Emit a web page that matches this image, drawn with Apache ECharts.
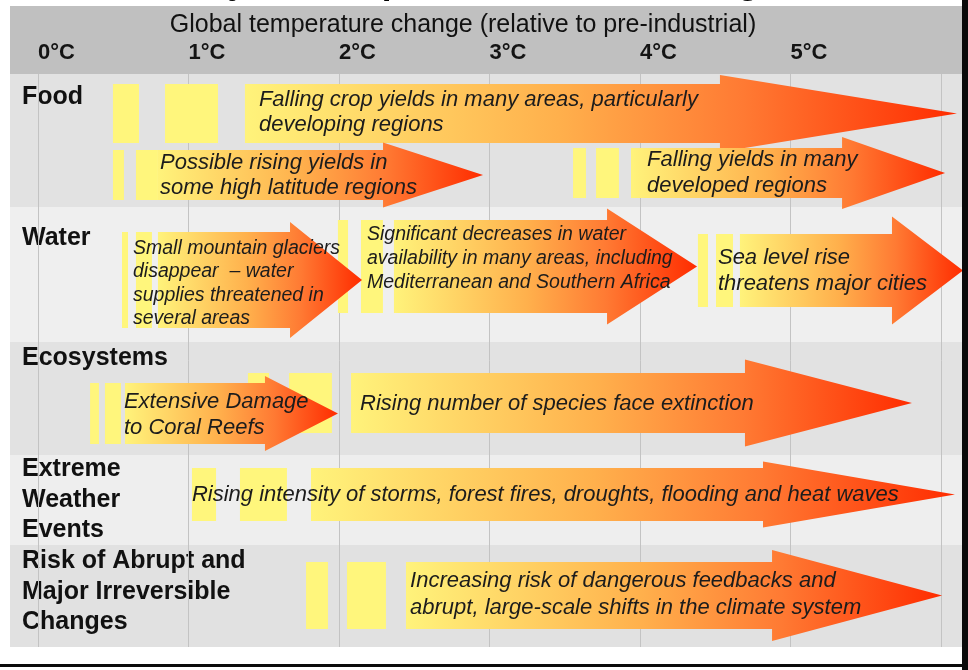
<!DOCTYPE html>
<html>
<head>
<meta charset="utf-8">
<title>Projected impacts of climate change</title>
<script src="https://cdn.jsdelivr.net/npm/echarts@6/dist/echarts.min.js"></script>
<style>
  html, body { margin: 0; padding: 0; background: #fff; }
  #chart { width: 968px; height: 670px; }
</style>
</head>
<body>
<div id="chart"></div>
<script>
  // rows, y measured downwards from the top of the first row
  var rowNames = ['Food', 'Water', 'Ecosystems', 'Extreme\nWeather\nEvents', 'Risk of Abrupt and\nMajor Irreversible\nChanges']
  var rowTop = [0, 133, 268, 381, 471]
  var rowBottom = [133, 268, 381, 471, 573]
  var rowLabelY = [23, 164, 284, 426, 518]

  // temperature axis (°C above pre-industrial)
  var tempTicks = [0, 1, 2, 3, 4, 5]

  // impacts: arrow from / to (°C), lane and where the text starts
  var impactText = [
    'Falling crop yields in many areas, particularly\ndeveloping regions',
    'Possible rising yields in\nsome high latitude regions',
    'Falling yields in many\ndeveloped regions',
    'Small mountain glaciers\ndisappear  \u2013 water\nsupplies threatened in\nseveral areas',
    'Significant decreases in water\navailability in many areas, including\nMediterranean and Southern Africa',
    'Sea level rise\nthreatens major cities',
    'Extensive Damage\nto Coral Reefs',
    'Rising number of species face extinction',
    'Rising intensity of storms, forest fires, droughts, flooding and heat waves',
    'Increasing risk of dangerous feedbacks and\nabrupt, large-scale shifts in the climate system'
  ]
  var impactFrom = [1.375, 0.797, 3.940, 0.797, 2.365, 4.664, 0.578, 2.080, 1.814, 2.445]
  var impactTo = [6.106, 2.957, 6.027, 2.153, 4.379, 6.146, 1.993, 5.807, 6.093, 6.007]
  var impactLane = [39.5, 101, 99, 206, 192.5, 196.5, 339.5, 329, 420.5, 521.5]
  var impactTextAt = [1.468, 0.811, 4.047, 0.631, 2.186, 4.518, 0.571, 2.140, 1.023, 2.472]

  // yellow dashes in front of each arrow
  var dashImpact = [0, 0, 1, 1, 2, 2, 3, 3, 4, 4, 5, 5, 6, 6, 7, 7, 8, 8, 9, 9]
  var dashFrom = [0.498, 0.844, 0.498, 0.651, 3.555, 3.708, 0.558, 0.651, 1.993, 2.146,
    4.385, 4.505, 0.346, 0.445, 1.395, 1.668, 1.023, 1.342, 1.781, 2.053]
  var dashTo = [0.671, 1.196, 0.571, 0.797, 3.641, 3.860, 0.598, 0.757, 2.060, 2.292,
    4.452, 4.618, 0.405, 0.551, 1.535, 1.953, 1.183, 1.654, 1.927, 2.312]

  // arrow shapes (px)
  var arrowStyle = [
    {body: 59, head: 77, headLen: 237, font: 22, lh: 25, dy: -1},
    {body: 50, head: 65, headLen: 100, font: 22, lh: 25, dy: 0},
    {body: 50, head: 72, headLen: 103, font: 22, lh: 26, dy: 0},
    {body: 96, head: 116, headLen: 72, font: 19.5, lh: 23.5, dy: 3.5},
    {body: 93, head: 116, headLen: 90, font: 19.5, lh: 24, dy: -7.5},
    {body: 73, head: 108, headLen: 71, font: 22, lh: 26, dy: 0.5},
    {body: 61, head: 75, headLen: 73, font: 22, lh: 26, dy: 1.5},
    {body: 60, head: 87, headLen: 167, font: 22, lh: 26, dy: 1},
    {body: 53, head: 66, headLen: 192, font: 22, lh: 26, dy: 0.5},
    {body: 67, head: 91, headLen: 170, font: 22, lh: 27, dy: -1}
  ]

  var panelLeft = 10
  var panelRight = 962
  var rowColors = ['#e2e2e2', '#efefef', '#e2e2e2', '#eeeeee', '#e1e1e1']
  var dashColor = '#fff67c'
  var gradStops = [
    {offset: 0, color: '#fff37b'},
    {offset: 0.44, color: '#ffb04c'},
    {offset: 0.7, color: '#ff7a33'},
    {offset: 1, color: '#ff2c00'}
  ]
  var sans = "'Liberation Sans', Arial, sans-serif"

  var myChart = echarts.init(document.getElementById('chart'))

  function renderRow (params, api) {
    var i = api.value(0)
    var top = api.coord([0, api.value(1)])[1]
    var bottom = api.coord([0, api.value(2)])[1]
    var ly = api.coord([0, api.value(3)])[1]
    return {
      type: 'group',
      children: [
        {
          type: 'rect',
          shape: {x: panelLeft, y: top, width: panelRight - panelLeft, height: bottom - top},
          style: {fill: rowColors[i]}
        },
        {
          type: 'text',
          x: 22,
          y: ly,
          style: {
            text: rowNames[i],
            font: 'bold 25px ' + sans,
            lineHeight: 30.5,
            fill: '#111',
            align: 'left',
            verticalAlign: 'middle'
          }
        }
      ]
    }
  }

  function renderDash (params, api) {
    var st = arrowStyle[api.value(0)]
    var a = api.coord([api.value(1), api.value(3)])
    var b = api.coord([api.value(2), api.value(3)])
    return {
      type: 'rect',
      shape: {x: a[0], y: a[1] - st.body / 2, width: b[0] - a[0], height: st.body},
      style: {fill: dashColor}
    }
  }

  function renderArrow (params, api) {
    var st = arrowStyle[api.value(0)]
    var a = api.coord([api.value(1), api.value(3)])
    var b = api.coord([api.value(2), api.value(3)])
    var x0 = a[0], x1 = b[0], cy = a[1]
    var hx = x1 - st.headLen
    var bh = st.body / 2, hh = st.head / 2
    return {
      type: 'polygon',
      shape: {
        points: [[x0, cy - bh], [hx, cy - bh], [hx, cy - hh], [x1, cy],
          [hx, cy + hh], [hx, cy + bh], [x0, cy + bh]]
      },
      style: {fill: new echarts.graphic.LinearGradient(0, 0, 1, 0, gradStops)}
    }
  }

  function renderText (params, api) {
    var i = api.value(0)
    var st = arrowStyle[i]
    var p = api.coord([api.value(1), api.value(2)])
    return {
      type: 'text',
      x: p[0],
      y: p[1] + st.dy,
      style: {
        text: impactText[i],
        font: 'italic ' + st.font + 'px ' + sans,
        lineHeight: st.lh,
        fill: '#1c1c1c',
        align: 'left',
        verticalAlign: 'middle'
      }
    }
  }

  var option = {
    animation: false,
    backgroundColor: '#ffffff',
    grid: {left: 38, right: 27, top: 74, bottom: 23},
    xAxis: {
      type: 'value',
      position: 'top',
      min: 0,
      max: 6,
      interval: 1,
      z: 2,
      axisLine: {show: false},
      axisTick: {show: false},
      axisLabel: {
        margin: 10,
        align: 'left',
        fontFamily: sans,
        fontSize: 22,
        fontWeight: 'bold',
        color: '#141414',
        formatter: function (v) { return tempTicks.indexOf(v) >= 0 ? v + '°C' : '' }
      },
      splitLine: {show: true, lineStyle: {color: '#c3c3c3', width: 1}}
    },
    yAxis: {
      type: 'value',
      inverse: true,
      min: 0,
      max: 573,
      show: false
    },
    graphic: [
      {
        type: 'text', z: 1, x: 475, y: -16,
        style: {text: 'Projected impacts of climate change', font: 'bold 35px ' + sans, fill: '#000', align: 'center', verticalAlign: 'middle'}
      },
      {type: 'rect', z: 2, shape: {x: panelLeft, y: 6, width: panelRight - panelLeft, height: 68}, style: {fill: '#c0c0c0'}},
      {
        type: 'text', z: 3, x: 463, y: 25,
        style: {text: 'Global temperature change (relative to pre-industrial)', font: '25px ' + sans, fill: '#111', align: 'center', verticalAlign: 'middle'}
      },
      {type: 'rect', z: 5, shape: {x: 962, y: 0, width: 6, height: 670}, style: {fill: '#0a0a0a'}},
      {type: 'rect', z: 5, shape: {x: 0, y: 664, width: 968, height: 3}, style: {fill: '#0a0a0a'}}
    ],
    series: [
      {
        type: 'custom',
        z: 1,
        clip: false,
        renderItem: renderRow,
        encode: {x: 1, y: [1, 2]},
        data: rowTop.map(function (t, i) { return [i, t, rowBottom[i], rowLabelY[i]] })
      },
      {
        type: 'custom',
        z: 3,
        clip: false,
        renderItem: renderDash,
        encode: {x: [1, 2], y: 3},
        data: dashFrom.map(function (f, i) { return [dashImpact[i], f, dashTo[i], impactLane[dashImpact[i]]] })
      },
      {
        type: 'custom',
        z: 4,
        clip: false,
        renderItem: renderArrow,
        encode: {x: [1, 2], y: 3},
        data: impactFrom.map(function (f, i) { return [i, f, impactTo[i], impactLane[i]] })
      },
      {
        type: 'custom',
        z: 5,
        clip: false,
        renderItem: renderText,
        encode: {x: 1, y: 2},
        data: impactTextAt.map(function (t, i) { return [i, t, impactLane[i]] })
      }
    ]
  }
  myChart.setOption(option, true)
</script>
</body>
</html>
